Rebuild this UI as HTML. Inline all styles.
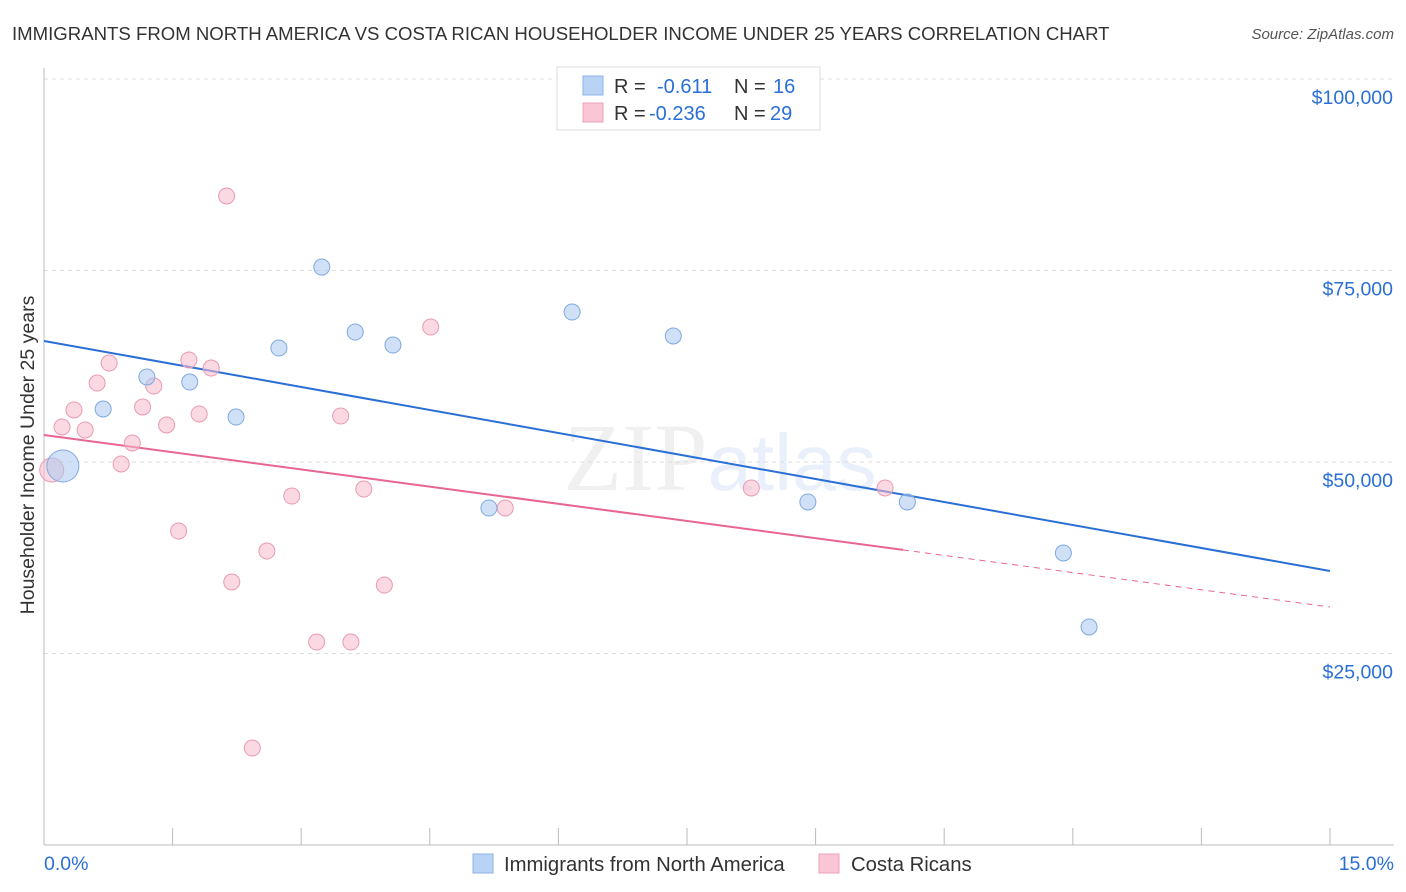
<!DOCTYPE html>
<html><head><meta charset="utf-8"><style>
body{margin:0;background:#fff;font-family:"Liberation Sans",sans-serif;}
svg{display:block}
</style></head><body>
<svg id="c" width="1406" height="892" xmlns="http://www.w3.org/2000/svg">
<text x="12" y="40" font-size="18.6" fill="#333">IMMIGRANTS FROM NORTH AMERICA VS COSTA RICAN HOUSEHOLDER INCOME UNDER 25 YEARS CORRELATION CHART</text>
<text x="1394" y="39" font-size="15" fill="#555" font-style="italic" text-anchor="end">Source: ZipAtlas.com</text>
<text x="720" y="490" font-size="96" fill="#000" fill-opacity="0.06" text-anchor="middle" font-family="Liberation Serif,serif">ZIP<tspan font-family="Liberation Sans,sans-serif" font-size="80" fill="#2a6fd6" fill-opacity="0.1">atlas</tspan></text>
<text transform="translate(34,455) rotate(-90)" font-size="19.5" fill="#333" text-anchor="middle">Householder Income Under 25 years</text>
<g id="grid"></g><g id="lines"></g><g id="pts"></g>
<g>
<rect x="557" y="67" width="263" height="63" fill="#fff" stroke="#ddd"/>
<rect x="583" y="76" width="20" height="19" fill="#b9d3f5" stroke="#8db3e6"/>
<rect x="583" y="103" width="20" height="19" fill="#fac6d6" stroke="#eda0b8"/>
<text x="614" y="93" font-size="20" fill="#333">R = <tspan fill="#2a6fd6" x="657">-0.611</tspan><tspan x="734">N = </tspan><tspan fill="#2a6fd6" x="773">16</tspan></text>
<text x="614" y="120" font-size="20" fill="#333">R = <tspan fill="#2a6fd6" x="649">-0.236</tspan><tspan x="734">N = </tspan><tspan fill="#2a6fd6" x="770">29</tspan></text>
</g>
<g>
<rect x="473" y="854" width="20" height="19" fill="#b9d3f5" stroke="#8db3e6"/>
<text x="504" y="871" font-size="20.3" fill="#333">Immigrants from North America</text>
<rect x="819" y="854" width="20" height="19" fill="#fac6d6" stroke="#eda0b8"/>
<text x="851" y="871" font-size="20.3" fill="#333">Costa Ricans</text>
</g>
<text x="44" y="870" font-size="19.5" fill="#2a6fd6">0.0%</text>
<text x="1394" y="870" font-size="19.5" fill="#2a6fd6" text-anchor="end">15.0%</text>
</svg>
<script>
const yTicks=[25000,50000,75000,100000];
const yTickLabels=["$25,000","$50,000","$75,000","$100,000"];
const blueX=[0.22,0.69,1.20,1.70,2.24,2.74,3.24,3.63,4.07,5.19,6.16,7.34,8.91,10.07,11.89,12.19];
const blueY=[49480,56920,61100,60440,55870,64880,75450,66970,65270,43990,69580,66450,44780,44780,38120,28460];
const pinkX=[0.09,0.21,0.35,0.48,0.62,0.76,0.90,1.03,1.15,1.28,1.43,1.57,1.69,1.81,1.95,2.13,2.19,2.43,2.60,2.89,3.18,3.46,3.58,3.73,3.97,4.51,5.38,8.25,9.81];
const pinkY=[48950,54570,56790,54180,60310,62920,49740,52480,57180,59920,54830,40990,63320,56270,62270,84730,34330,12660,38380,45560,26500,56000,26500,46470,33940,67620,43990,46610,46610];
const blueLine=[65800,35770];
const pinkLine=[53524,31070];
const pinkSolidEnd=10.02;
const X=v=>44+v/15*1286, Y=v=>845-v/100000*766;
const NS="http://www.w3.org/2000/svg";
function mk(p,t,a){const e=document.createElementNS(NS,t);for(const k in a)e.setAttribute(k,a[k]);p.appendChild(e);return e;}
const g=document.getElementById('grid'),l=document.getElementById('lines'),p=document.getElementById('pts');
yTicks.forEach((v,i)=>{
 const ln=mk(g,'line',{x1:44,x2:1394,y1:Y(v),y2:Y(v),stroke:'#ddd','stroke-dasharray':'4,4'});
 
 
 const t=mk(g,'text',{x:1393,y:Y(v)+25,'font-size':19.5,fill:'#2a6fd6','text-anchor':'end'});
 t.textContent=yTickLabels[i];
 
 
});
const ax=mk(g,'line',{x1:44,x2:1394,y1:845,y2:845,stroke:'#bbb'});


const ay=mk(g,'line',{x1:44,x2:44,y1:68,y2:845,stroke:'#bbb'});


for(let i=0;i<=10;i++){const tk=mk(g,'line',{x1:X(i*1.5),x2:X(i*1.5),y1:828,y2:845,stroke:'#bbb'});
 
 }
const at=(a,x)=>a[0]+(a[1]-a[0])*x/15;
const bl=mk(l,'line',{x1:X(0),y1:Y(blueLine[0]),x2:X(15),y2:Y(blueLine[1]),stroke:'#2a6fd6','stroke-width':2});


const pl=mk(l,'line',{x1:X(0),y1:Y(pinkLine[0]),x2:X(pinkSolidEnd),y2:Y(at(pinkLine,pinkSolidEnd)),stroke:'#e8658f','stroke-width':2});


const pd=mk(l,'line',{x1:X(pinkSolidEnd),y1:Y(at(pinkLine,pinkSolidEnd)),x2:X(15),y2:Y(pinkLine[1]),stroke:'#e8658f','stroke-width':1,'stroke-dasharray':'6,5'});


pinkX.forEach((x,i)=>{const c=mk(p,'circle',{cx:X(x),cy:Y(pinkY[i]),r:i==0?12:8,fill:'#f7b9cc','fill-opacity':0.55,stroke:'#e99ab3','stroke-width':1});
 
 });
blueX.forEach((x,i)=>{const c=mk(p,'circle',{cx:X(x),cy:Y(blueY[i]),r:i==0?16:8,fill:'#a9c8f0','fill-opacity':0.55,stroke:'#7ea9e0','stroke-width':1});
 
 });
</script>
</body></html>
